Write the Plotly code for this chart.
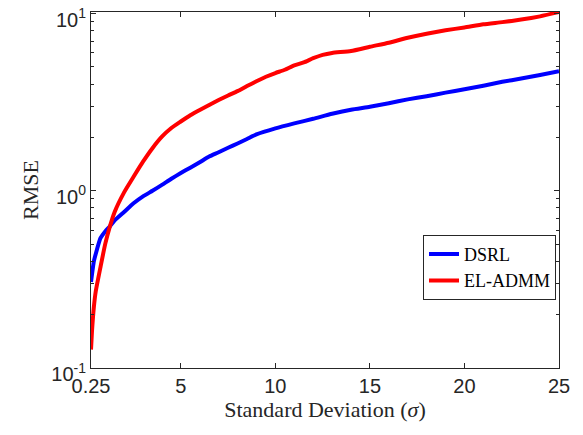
import plotly.graph_objects as go

# Dati
sigma_dsrl = [0.25, 0.4, 0.5, 0.75, 1.0, 1.25, 1.5, 2.0, 2.5, 3.0, 3.5, 4.0, 4.5, 5.0, 5.5,
              6.0, 6.5, 7.0, 7.5, 8.0, 8.5, 9.0, 10.0, 11.0, 12.0, 13.0, 14.0, 15.0, 16.0,
              17.0, 18.0, 19.0, 20.0, 21.0, 22.0, 23.0, 24.0, 25.0]
rmse_dsrl = [0.306, 0.40, 0.44, 0.54, 0.59, 0.63, 0.68, 0.76, 0.85, 0.93, 1.00, 1.08, 1.17, 1.26, 1.35,
             1.45, 1.56, 1.65, 1.75, 1.85, 1.96, 2.08, 2.25, 2.40, 2.55, 2.72, 2.87, 2.98, 3.12,
             3.28, 3.42, 3.58, 3.74, 3.92, 4.12, 4.30, 4.50, 4.73]

sigma_eladmm = [0.25, 0.3, 0.4, 0.5, 0.75, 1.0, 1.25, 1.5, 2.0, 2.5, 3.0, 3.5, 4.0, 4.5, 5.0,
                5.5, 6.0, 6.5, 7.0, 7.5, 8.0, 8.5, 9.0, 9.5, 10.0, 10.5, 11.0, 11.5, 12.0,
                12.5, 13.0, 14.0, 15.0, 16.0, 17.0, 18.0, 19.0, 20.0, 21.0, 22.0, 23.0, 24.0, 25.0]
rmse_eladmm = [0.127, 0.16, 0.22, 0.27, 0.37, 0.50, 0.63, 0.76, 0.98, 1.20, 1.46, 1.74, 2.02, 2.26, 2.46,
               2.67, 2.86, 3.05, 3.25, 3.45, 3.65, 3.90, 4.15, 4.40, 4.62, 4.82, 5.10, 5.30, 5.60,
               5.85, 6.00, 6.15, 6.50, 6.85, 7.30, 7.70, 8.05, 8.35, 8.70, 8.95, 9.25, 9.65, 10.2]

x_ticks = [0.25, 5, 10, 15, 20, 25]
x_tick_labels = ["0.25", "5", "10", "15", "20", "25"]
y_ticks = [0.1, 1, 10]
y_tick_labels = ["10<sup>-1</sup>", "10<sup>0</sup>", "10<sup>1</sup>"]
y_minor_ticks = [0.2, 0.3, 0.4, 0.5, 0.6, 0.7, 0.8, 0.9, 2, 3, 4, 5, 6, 7, 8, 9]

serif = "Liberation Serif"
sans = "Liberation Sans"
axis_col = "#262626"

fig = go.Figure()
fig.add_trace(go.Scatter(x=sigma_dsrl, y=rmse_dsrl, mode="lines", name="DSRL",
                         line=dict(color="#0000ff", width=4, shape="spline", smoothing=0.5)))
fig.add_trace(go.Scatter(x=sigma_eladmm, y=rmse_eladmm, mode="lines", name="EL-ADMM",
                         line=dict(color="#ff0000", width=4, shape="spline", smoothing=0.5)))

fig.update_layout(
    width=583, height=435,
    margin=dict(l=91, r=24, t=12, b=67),
    paper_bgcolor="white", plot_bgcolor="white",
    showlegend=True,
    legend=dict(x=0.9936, y=0.374, xanchor="right", yanchor="top",
                bgcolor="white", bordercolor=axis_col, borderwidth=1,
                font=dict(family=serif, size=18, color="black"),
                tracegroupgap=0, itemwidth=30),
)

fig.update_xaxes(
    range=[0.25, 25], tickvals=x_ticks, ticktext=x_tick_labels,
    ticks="inside", ticklen=5, tickcolor=axis_col,
    showline=True, linecolor=axis_col, linewidth=1, mirror="ticks",
    showgrid=False, zeroline=False, automargin=False, ticklabeloverflow="allow",
    tickfont=dict(family=sans, size=20, color=axis_col),
    title=dict(text="Standard Deviation (<i>σ</i>)", standoff=0,
               font=dict(family=serif, size=22, color=axis_col)),
)

fig.update_yaxes(
    type="log", range=[-1, 1.009], tickvals=y_ticks, ticktext=y_tick_labels,
    ticks="inside", ticklen=5, tickcolor=axis_col,
    minor=dict(ticks="inside", ticklen=3, tickcolor=axis_col, showgrid=False,
               tickvals=y_minor_ticks),
    showline=True, linecolor=axis_col, linewidth=1, mirror="ticks",
    showgrid=False, zeroline=False, automargin=False,
    ticklabeloverflow="allow", ticklabelshift=6,
    tickfont=dict(family=sans, size=20, color=axis_col),
    title=dict(text="RMSE", standoff=6,
               font=dict(family=serif, size=22, color=axis_col)),
)

# Rimuovi il margine del body e la modebar
fig.write_html("out.html", config={"displayModeBar": False},
               post_script="document.body.style.margin='0';")
